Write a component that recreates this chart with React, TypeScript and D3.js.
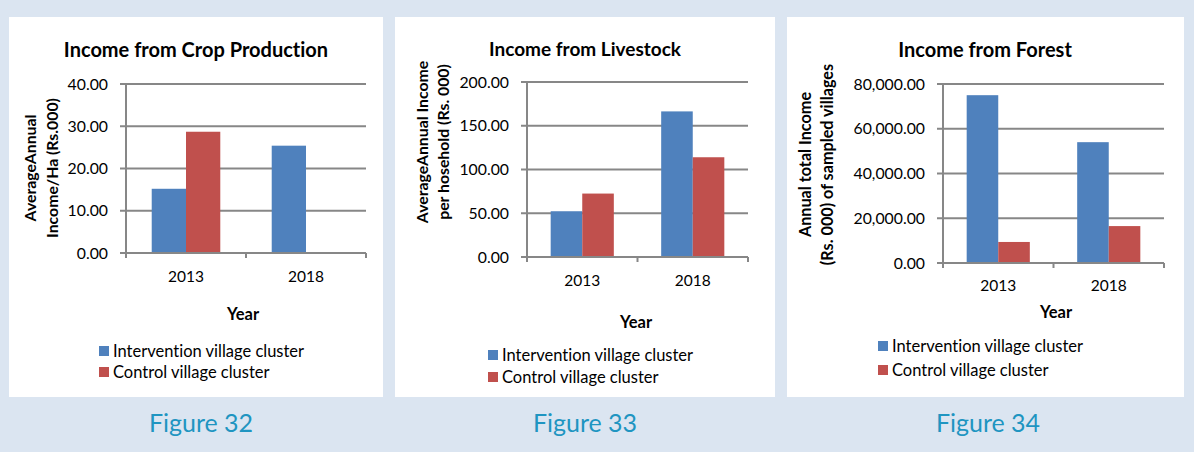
import React from "react";
import * as d3 from "d3";

const years = ["2013", "2018"];
const seriesNames = ["Intervention village cluster", "Control village cluster"];
const seriesColors = ["#4f81bd", "#c0504d"];

const cropIntervention = [15.2, 25.4];
const cropControl = [28.7, 0.1];
const cropTicks = [0, 10, 20, 30, 40];

const livestockIntervention = [52.3, 166.4];
const livestockControl = [72.5, 114.0];
const livestockTicks = [0, 50, 100, 150, 200];

const forestIntervention = [75000, 54000];
const forestControl = [9400, 16500];
const forestTicks = [0, 20000, 40000, 60000, 80000];

const FONT = "Lato, 'Open Sans', sans-serif";
const GRID = "#878787";

type PanelCfg = {
  title: string;
  caption: string;
  series: number[][];
  ticks: number[];
  fmt: (v: number) => string;
  box: { x: number; y: number; w: number; h: number };
  plot: { left: number; right: number; top: number; bottom: number };
  titlePos: { x: number; y: number; size: number };
  xLabelY: number;
  yearPos: { x: number; y: number };
  yTitle: string[];
  yTitleBase: number[];
  yTitleCenter: number;
  yTitleSize: number;
  legend: { x: number; y: number; dy: number };
  captionPos: { x: number; y: number };
};

const fmt2 = d3.format(".2f");
const fmtComma = d3.format(",.2f");

const panels: PanelCfg[] = [
  {
    title: "Income from Crop Production",
    caption: "Figure 32",
    series: [cropIntervention, cropControl],
    ticks: cropTicks,
    fmt: fmt2,
    box: { x: 9, y: 17, w: 374, h: 380 },
    plot: { left: 126, right: 366, top: 84, bottom: 253 },
    titlePos: { x: 196, y: 57, size: 20 },
    xLabelY: 282,
    yearPos: { x: 243, y: 320 },
    yTitle: ["AverageAnnual", "Income/Ha (Rs.000)"],
    yTitleBase: [36, 58],
    yTitleCenter: 168,
    yTitleSize: 15.8,
    legend: { x: 99, y: 346, dy: 21 },
    captionPos: { x: 201, y: 432 },
  },
  {
    title: "Income from Livestock",
    caption: "Figure 33",
    series: [livestockIntervention, livestockControl],
    ticks: livestockTicks,
    fmt: fmt2,
    box: { x: 395, y: 17, w: 380, h: 380 },
    plot: { left: 527, right: 748, top: 82, bottom: 257 },
    titlePos: { x: 585, y: 56, size: 19 },
    xLabelY: 286,
    yearPos: { x: 636, y: 328 },
    yTitle: ["AverageAnnual Income", "per hosehold (Rs. 000)"],
    yTitleBase: [428, 449],
    yTitleCenter: 142,
    yTitleSize: 15.8,
    legend: { x: 488, y: 350, dy: 22 },
    captionPos: { x: 585, y: 432 },
  },
  {
    title: "Income from Forest",
    caption: "Figure 34",
    series: [forestIntervention, forestControl],
    ticks: forestTicks,
    fmt: fmtComma,
    box: { x: 787, y: 17, w: 397, h: 380 },
    plot: { left: 943, right: 1164, top: 84, bottom: 263 },
    titlePos: { x: 985, y: 57, size: 20 },
    xLabelY: 291,
    yearPos: { x: 1056, y: 318 },
    yTitle: ["Annual total Income", "(Rs. 000) of sampled villages"],
    yTitleBase: [811, 833],
    yTitleCenter: 164.5,
    yTitleSize: 16.2,
    legend: { x: 878, y: 341, dy: 24 },
    captionPos: { x: 988, y: 432 },
  },
];

const noLig = { fontVariantLigatures: "none" as const };

function Panel({ cfg }: { cfg: PanelCfg }) {
  const { plot } = cfg;
  const yMax = cfg.ticks[cfg.ticks.length - 1];
  const y = d3.scaleLinear().domain([0, yMax]).range([plot.bottom, plot.top]);
  const x = d3.scaleBand<string>().domain(years).range([plot.left, plot.right]).padding(0);
  const xs = d3
    .scaleBand<string>()
    .domain(seriesNames)
    .range([0, x.bandwidth()])
    .paddingInner(0)
    .paddingOuter(0.75);
  const boundaries = [plot.left, ...years.map((yr) => (x(yr) as number) + x.bandwidth())];
  return (
    <g style={noLig}>
      <rect x={cfg.box.x} y={cfg.box.y} width={cfg.box.w} height={cfg.box.h} fill="#ffffff" />
      <text
        x={cfg.titlePos.x}
        y={cfg.titlePos.y}
        textAnchor="middle"
        fontFamily={FONT}
        fontWeight="bold"
        fontSize={cfg.titlePos.size}
        fill="#000"
        style={noLig}
      >
        {cfg.title}
      </text>
      {cfg.ticks.map((t) => (
        <g key={t}>
          <line x1={plot.left - 6} x2={plot.right} y1={y(t)} y2={y(t)} stroke={GRID} strokeWidth={2} />
          <text
            x={plot.left - 18}
            y={y(t)}
            dy="0.36em"
            textAnchor="end"
            fontFamily={FONT}
            fontSize={15.8}
            fill="#000"
          >
            {cfg.fmt(t)}
          </text>
        </g>
      ))}
      {years.map((yr, i) =>
        seriesNames.map((s, j) => {
          const v = cfg.series[j][i];
          return (
            <rect
              key={yr + s}
              x={(x(yr) as number) + (xs(s) as number)}
              y={y(v)}
              width={xs.bandwidth()}
              height={plot.bottom - y(v)}
              fill={seriesColors[j]}
            />
          );
        })
      )}
      <line x1={plot.left} x2={plot.left} y1={plot.top} y2={plot.bottom + 1} stroke={GRID} strokeWidth={2} />
      <line x1={plot.left - 6} x2={plot.right} y1={plot.bottom} y2={plot.bottom} stroke={GRID} strokeWidth={2} />
      {boundaries.map((bx, i) => (
        <line key={i} x1={bx} x2={bx} y1={plot.bottom} y2={plot.bottom + 5} stroke={GRID} strokeWidth={2} />
      ))}
      {years.map((yr) => (
        <text
          key={yr}
          x={(x(yr) as number) + x.bandwidth() / 2}
          y={cfg.xLabelY}
          textAnchor="middle"
          fontFamily={FONT}
          fontSize={15.5}
          fill="#000"
        >
          {yr}
        </text>
      ))}
      <text
        x={cfg.yearPos.x}
        y={cfg.yearPos.y}
        textAnchor="middle"
        fontFamily={FONT}
        fontWeight="bold"
        fontSize={16.5}
        fill="#000"
      >
        Year
      </text>
      {cfg.yTitle.map((line, i) => (
        <text
          key={i}
          transform={`translate(${cfg.yTitleBase[i]},${cfg.yTitleCenter}) rotate(-90)`}
          textAnchor="middle"
          fontFamily={FONT}
          fontWeight="bold"
          fontSize={cfg.yTitleSize}
          fill="#000"
          style={noLig}
        >
          {line}
        </text>
      ))}
      {seriesNames.map((s, j) => (
        <g key={s}>
          <rect
            x={cfg.legend.x}
            y={cfg.legend.y + j * cfg.legend.dy}
            width={10}
            height={10}
            fill={seriesColors[j]}
          />
          <text
            x={cfg.legend.x + 14}
            y={cfg.legend.y + j * cfg.legend.dy + 11}
            fontFamily={FONT}
            fontSize={16.5}
            fill="#000"
            style={noLig}
          >
            {s}
          </text>
        </g>
      ))}
      <text
        x={cfg.captionPos.x}
        y={cfg.captionPos.y}
        textAnchor="middle"
        fontFamily={FONT}
        fontSize={25}
        fill="#1f95c1"
      >
        {cfg.caption}
      </text>
    </g>
  );
}

export default function App() {
  return (
    <svg
      width={1194}
      height={452}
      style={{ position: "absolute", left: 0, top: 0, display: "block" }}
    >
      <rect x={0} y={0} width={1194} height={452} fill="#dbe5f1" />
      {panels.map((p) => (
        <Panel key={p.caption} cfg={p} />
      ))}
    </svg>
  );
}
